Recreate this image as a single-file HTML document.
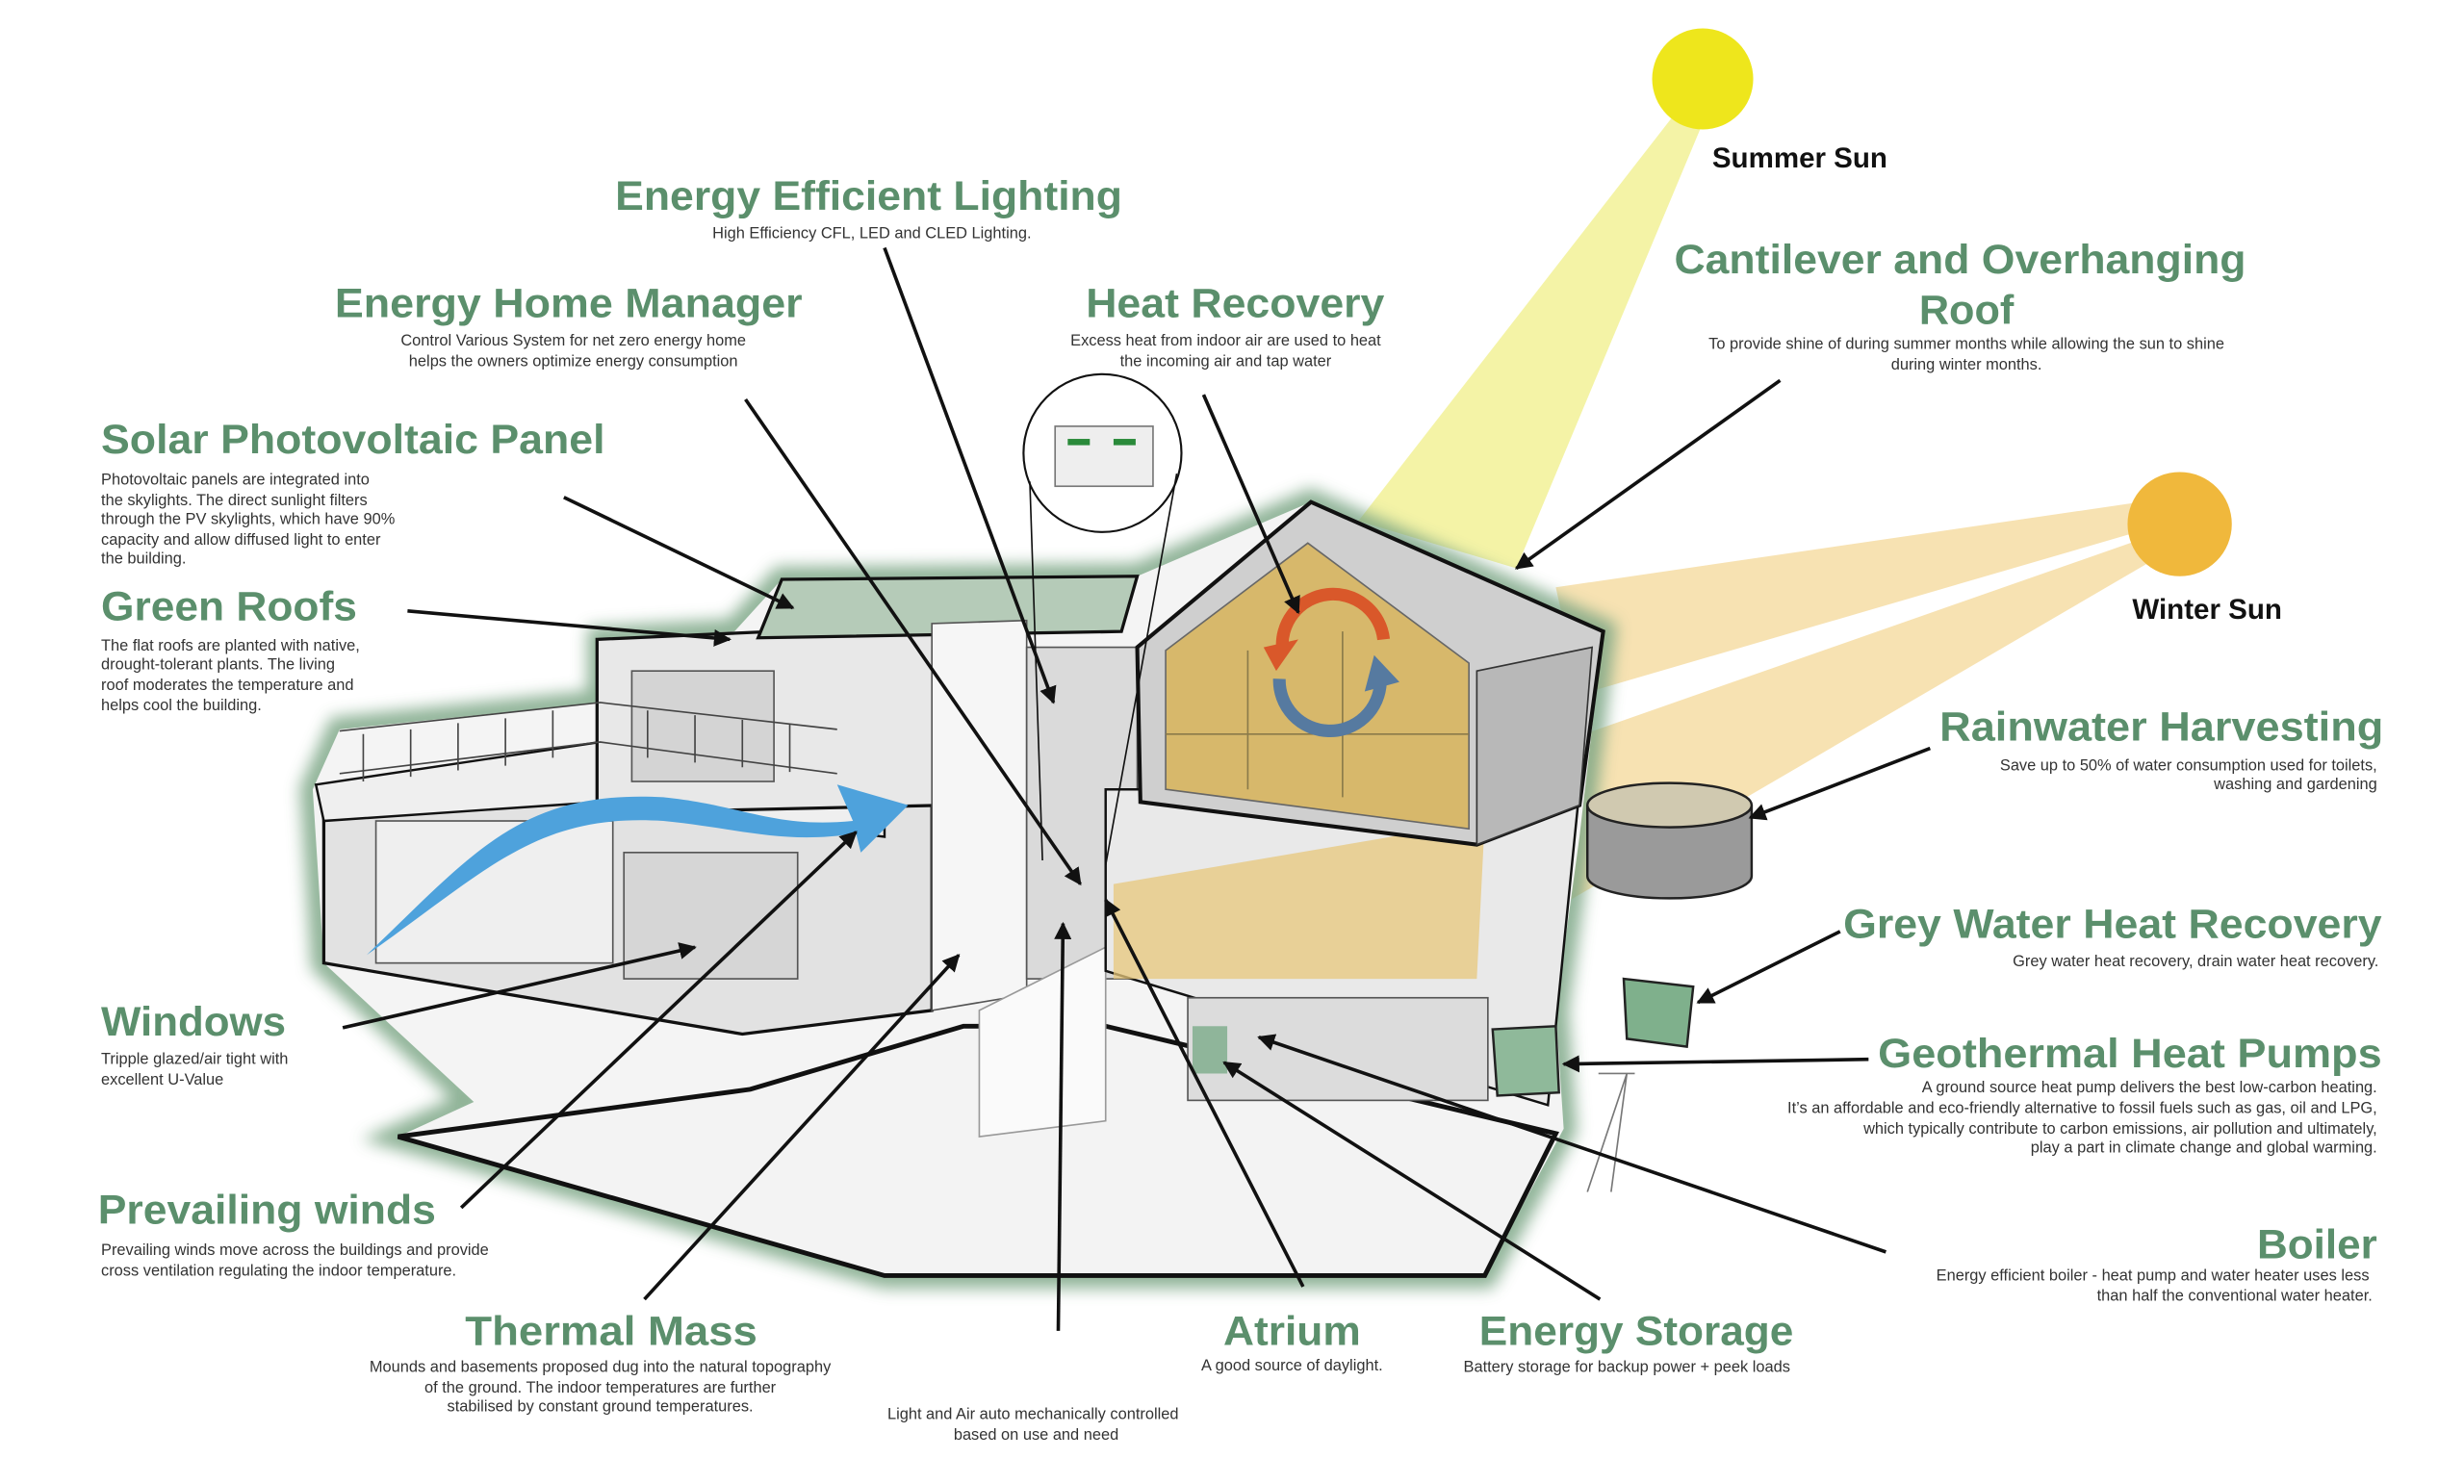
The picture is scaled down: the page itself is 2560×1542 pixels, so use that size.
<!DOCTYPE html>
<html><head><meta charset="utf-8"><style>
html,body{margin:0;padding:0;background:#fff;width:2560px;height:1542px;overflow:hidden}
svg{display:block}
.h{font-family:"Liberation Sans Narrow","Liberation Sans",sans-serif;font-weight:bold;fill:#5b8f6c;font-size:26px}
.s{font-family:"Liberation Sans Narrow","Liberation Sans",sans-serif;fill:#333;font-size:10px}
.k{font-family:"Liberation Sans Narrow","Liberation Sans",sans-serif;font-weight:bold;fill:#111;font-size:18px}
.c{stroke:#111;stroke-width:2.2;fill:none;marker-end:url(#ar)}
</style></head><body>
<svg width="2560" height="1542" viewBox="0 0 1560 940" preserveAspectRatio="none" xmlns="http://www.w3.org/2000/svg">
<defs>
<marker id="ar" viewBox="0 0 10 10" refX="9" refY="5" markerWidth="5" markerHeight="5" orient="auto"><path d="M0,0L10,5L0,10z" fill="#111"/></marker>
<filter id="gl" x="-10%" y="-10%" width="120%" height="120%"><feGaussianBlur stdDeviation="5"/></filter>
</defs>
<!-- sun beams -->
<polygon points="1062,70 1078,78 960,360 860,330" fill="#f4f3a6"/>
<polygon points="1355,318 1360,335 1000,440 985,372" fill="#f7e2b2"/>
<polygon points="1360,340 1368,352 960,590 960,480" fill="#f7e2b2"/>
<circle cx="1078" cy="50" r="32" fill="#eee61c"/>
<circle cx="1380" cy="332" r="33" fill="#f0b83c"/>
<text class="k" x="1084" y="106">Summer Sun</text>
<text class="k" x="1350" y="392">Winter Sun</text>
<!-- glow outline -->
<path d="M215,462 L380,445 L380,405 L465,400 L495,367 L720,365 L830,318 L1015,400 L1000,530 L985,640 L990,715 L940,808 L560,808 L252,720 L300,698 L205,610 L198,500 Z" fill="none" stroke="#7aa584" stroke-width="16" filter="url(#gl)" opacity="0.85"/>
<path d="M215,462 L380,445 L380,405 L465,400 L495,367 L720,365 L830,318 L1015,400 L1000,530 L985,640 L990,715 L940,808 L560,808 L252,720 L300,698 L205,610 L198,500 Z" fill="#f4f4f4"/>
<!-- ground -->
<polygon points="252,720 475,690 610,650 700,650 985,718 940,808 560,808" fill="#f3f3f3" stroke="#111" stroke-width="3"/>
<!-- left lower block -->
<polygon points="205,500 380,485 590,500 590,640 470,655 205,610" fill="#e2e2e2" stroke="#111" stroke-width="2"/>
<rect x="238" y="520" width="150" height="90" fill="#efefef" stroke="#555"/>
<rect x="395" y="540" width="110" height="80" fill="#d6d6d6" stroke="#555"/>
<polygon points="200,497 380,470 560,492 560,530 380,508 205,520" fill="#efefef" stroke="#111" stroke-width="1.5"/>
<!-- upper left block -->
<polygon points="378,405 600,395 600,510 378,515" fill="#e8e8e8" stroke="#111" stroke-width="2"/>
<rect x="400" y="425" width="90" height="70" fill="#d4d4d4" stroke="#555"/>
<polygon points="495,367 720,365 710,400 480,404" fill="#b5cbb8" stroke="#111" stroke-width="2"/>
<!-- railing -->
<g stroke="#444" stroke-width="1" fill="none">
<path d="M215,463 L380,445 L530,462"/><path d="M215,490 L380,470 L530,490"/>
<path d="M230,465v30M260,462v30M290,458v30M320,455v30M350,450v30M410,450v30M440,453v30M470,456v30M500,459v30"/>
</g>
<!-- central wall -->
<polygon points="590,395 650,393 650,630 590,640" fill="#f6f6f6" stroke="#555" stroke-width="1"/>
<rect x="650" y="410" width="70" height="210" fill="#dadada" stroke="#555"/>
<polygon points="620,640 700,600 700,710 620,720" fill="#fafafa" stroke="#999"/>
<!-- lower right block -->
<polygon points="700,500 1000,500 980,700 700,615" fill="#e9e9e9" stroke="#111" stroke-width="1.5"/>
<polygon points="705,560 940,520 935,620 705,620" fill="#e7c77b" opacity="0.75"/>
<rect x="752" y="632" width="190" height="65" fill="#dcdcdc" stroke="#555"/>
<rect x="755" y="650" width="22" height="30" fill="#8fb59a"/>
<!-- gable -->
<polygon points="720,410 830,318 1015,400 1000,510 935,535 722,508" fill="#cfcfcf" stroke="#111" stroke-width="2.5"/>
<polygon points="738,412 828,344 930,420 930,525 738,500" fill="#d9b55a" opacity="0.85" stroke="#555"/>
<polygon points="935,425 1008,410 1000,510 935,535" fill="#b8b8b8" stroke="#333"/>
<g stroke="#8a7a4a" stroke-width="1" fill="none"><path d="M738,465H930M790,412V500M850,400V505"/></g>
<!-- heat recovery arrows -->
<path d="M812,412 A32,32 0 0 1 876,405" stroke="#d9582a" stroke-width="8" fill="none"/>
<polygon points="800,410 822,405 808,425" fill="#d9582a"/>
<path d="M810,430 A32,32 0 0 0 874,432" stroke="#567aa0" stroke-width="8" fill="none"/>
<polygon points="886,432 870,415 864,438" fill="#567aa0"/>
<!-- wind arrow -->
<path d="M232,605 C300,540 330,500 420,505 C470,510 490,525 540,520 L530,497 L575,510 L545,540 L542,528 C495,535 470,525 420,520 C340,515 310,550 232,605 Z" fill="#4ea2dc"/>
<!-- tank -->
<path d="M1005,510 V555 A52,14 0 0 0 1109,555 V510" fill="#9a9a9a" stroke="#222" stroke-width="1.5"/>
<ellipse cx="1057" cy="510" rx="52" ry="14" fill="#d0c9b0" stroke="#222" stroke-width="1.5"/>
<!-- grey water box -->
<polygon points="1028,620 1072,625 1068,663 1030,658" fill="#7fb08c" stroke="#222" stroke-width="1.5"/>
<polygon points="945,652 985,650 987,692 948,694" fill="#8fb99a" stroke="#222" stroke-width="1.5"/>
<path d="M1030,680 L1005,755 M1030,680 L1020,755 M1012,680 H1035" stroke="#777" fill="none"/>
<!-- callout circle -->
<circle cx="698" cy="287" r="50" fill="#fff" stroke="#111" stroke-width="1.3"/>
<rect x="668" y="270" width="62" height="38" fill="#eee" stroke="#777"/>
<rect x="676" y="278" width="14" height="4" fill="#2a8a3a"/><rect x="705" y="278" width="14" height="4" fill="#2a8a3a"/>
<path d="M652,305 L660,545 M745,300 L700,548" stroke="#111" stroke-width="1" fill="none"/>
<!-- connectors -->
<path class="c" d="M560,157 L667,445"/>
<path class="c" d="M472,253 L684,560"/>
<path class="c" d="M762,250 L822,388"/>
<path class="c" d="M1127,241 L960,360"/>
<path class="c" d="M357,315 L502,385"/>
<path class="c" d="M258,387 L462,405"/>
<path class="c" d="M1222,474 L1108,518"/>
<path class="c" d="M1165,590 L1075,635"/>
<path class="c" d="M1183,671 L990,674"/>
<path class="c" d="M217,651 L440,600"/>
<path class="c" d="M292,765 L542,527"/>
<path class="c" d="M408,823 L607,605"/>
<path class="c" d="M825,815 L700,570"/>
<path class="c" d="M1013,823 L775,673"/>
<path class="c" d="M1194,793 L797,657"/>
<path class="c" d="M670,843 L673,585"/>
<!-- headings -->
<text class="h" x="550" y="133" text-anchor="middle" textLength="321" lengthAdjust="spacingAndGlyphs">Energy Efficient Lighting</text>
<text class="s" x="552" y="151" text-anchor="middle">High Efficiency CFL, LED and CLED Lighting.</text>
<text class="h" x="360" y="201" text-anchor="middle" textLength="296" lengthAdjust="spacingAndGlyphs">Energy Home Manager</text>
<text class="s" x="363" y="219" text-anchor="middle">Control Various System for net zero energy home</text>
<text class="s" x="363" y="232" text-anchor="middle">helps the owners optimize energy consumption</text>
<text class="h" x="782" y="201" text-anchor="middle" textLength="189" lengthAdjust="spacingAndGlyphs">Heat Recovery</text>
<text class="s" x="776" y="219" text-anchor="middle">Excess heat from indoor air are used to heat</text>
<text class="s" x="776" y="232" text-anchor="middle">the incoming air and tap water</text>
<text class="h" x="1241" y="173" text-anchor="middle" textLength="362" lengthAdjust="spacingAndGlyphs">Cantilever and Overhanging</text>
<text class="h" x="1245" y="205" text-anchor="middle" textLength="60" lengthAdjust="spacingAndGlyphs">Roof</text>
<text class="s" x="1245" y="221" text-anchor="middle">To provide shine of during summer months while allowing the sun to shine</text>
<text class="s" x="1245" y="234" text-anchor="middle">during winter months.</text>
<text class="h" x="64" y="287" textLength="319" lengthAdjust="spacingAndGlyphs">Solar Photovoltaic Panel</text>
<text class="s" x="64" y="307">Photovoltaic panels are integrated into</text>
<text class="s" x="64" y="320">the skylights. The direct sunlight filters</text>
<text class="s" x="64" y="332">through the PV skylights, which have 90%</text>
<text class="s" x="64" y="345">capacity and allow diffused light to enter</text>
<text class="s" x="64" y="357">the building.</text>
<text class="h" x="64" y="393" textLength="162" lengthAdjust="spacingAndGlyphs">Green Roofs</text>
<text class="s" x="64" y="412">The flat roofs are planted with native,</text>
<text class="s" x="64" y="424">drought-tolerant plants. The living</text>
<text class="s" x="64" y="437">roof moderates the temperature and</text>
<text class="s" x="64" y="450">helps cool the building.</text>
<text class="h" x="1509" y="469" text-anchor="end" textLength="281" lengthAdjust="spacingAndGlyphs">Rainwater Harvesting</text>
<text class="s" x="1505" y="488" text-anchor="end">Save up to 50% of water consumption used for toilets,</text>
<text class="s" x="1505" y="500" text-anchor="end">washing and gardening</text>
<text class="h" x="1508" y="594" text-anchor="end" textLength="341" lengthAdjust="spacingAndGlyphs">Grey Water Heat Recovery</text>
<text class="s" x="1506" y="612" text-anchor="end">Grey water heat recovery, drain water heat recovery.</text>
<text class="h" x="1508" y="676" text-anchor="end" textLength="319" lengthAdjust="spacingAndGlyphs">Geothermal Heat Pumps</text>
<text class="s" x="1505" y="692" text-anchor="end">A ground source heat pump delivers the best low-carbon heating.</text>
<text class="s" x="1505" y="705" text-anchor="end">It’s an affordable and eco-friendly alternative to fossil fuels such as gas, oil and LPG,</text>
<text class="s" x="1505" y="718" text-anchor="end">which typically contribute to carbon emissions, air pollution and ultimately,</text>
<text class="s" x="1505" y="730" text-anchor="end">play a part in climate change and global warming.</text>
<text class="h" x="64" y="656" textLength="117" lengthAdjust="spacingAndGlyphs">Windows</text>
<text class="s" x="64" y="674">Tripple glazed/air tight with</text>
<text class="s" x="64" y="687">excellent U-Value</text>
<text class="h" x="62" y="775" textLength="214" lengthAdjust="spacingAndGlyphs">Prevailing winds</text>
<text class="s" x="64" y="795">Prevailing winds move across the buildings and provide</text>
<text class="s" x="64" y="808">cross ventilation regulating the indoor temperature.</text>
<text class="h" x="1505" y="797" text-anchor="end" textLength="76" lengthAdjust="spacingAndGlyphs">Boiler</text>
<text class="s" x="1500" y="811" text-anchor="end">Energy efficient boiler - heat pump and water heater uses less</text>
<text class="s" x="1502" y="824" text-anchor="end">than half the conventional water heater.</text>
<text class="h" x="387" y="852" text-anchor="middle" textLength="185" lengthAdjust="spacingAndGlyphs">Thermal Mass</text>
<text class="s" x="380" y="869" text-anchor="middle">Mounds and basements proposed dug into the natural topography</text>
<text class="s" x="380" y="882" text-anchor="middle">of the ground. The indoor temperatures are further</text>
<text class="s" x="380" y="894" text-anchor="middle">stabilised by constant ground temperatures.</text>
<text class="h" x="818" y="852" text-anchor="middle" textLength="87" lengthAdjust="spacingAndGlyphs">Atrium</text>
<text class="s" x="818" y="868" text-anchor="middle">A good source of daylight.</text>
<text class="h" x="1036" y="852" text-anchor="middle" textLength="199" lengthAdjust="spacingAndGlyphs">Energy Storage</text>
<text class="s" x="1030" y="869" text-anchor="middle">Battery storage for backup power + peek loads</text>
<text class="s" x="654" y="899" text-anchor="middle">Light and Air auto mechanically controlled</text>
<text class="s" x="656" y="912" text-anchor="middle">based on use and need</text>
</svg>
</body></html>
